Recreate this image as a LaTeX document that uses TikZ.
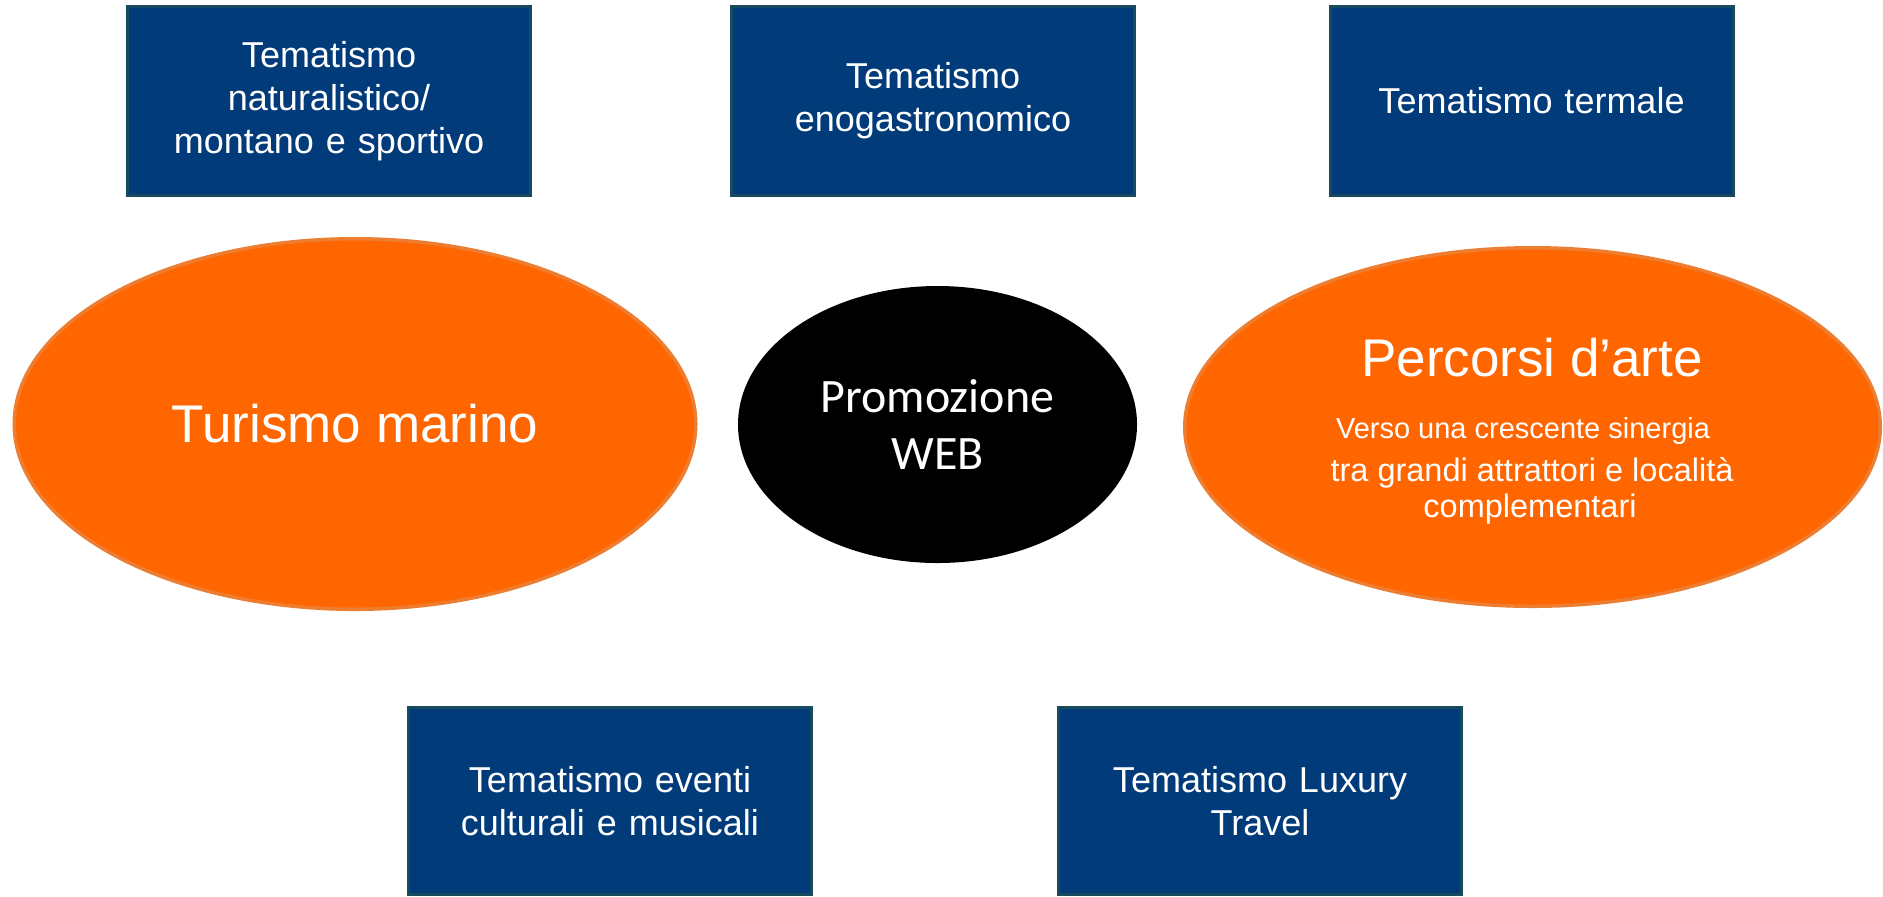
\documentclass[tikz,border=0pt]{standalone}
\usepackage{fontspec}
\setmainfont{Liberation Sans}
\newfontfamily\carlito{Carlito}
\usetikzlibrary{shapes.geometric}
\definecolor{boxfill}{HTML}{023B7A}
\definecolor{boxline}{HTML}{17495F}
\definecolor{orfill}{HTML}{FF6600}
\definecolor{orline}{HTML}{ED7D31}
\begin{document}
\begin{tikzpicture}[x=0.4pt,y=-0.4pt,
  themebox/.style={draw=boxline, fill=boxfill, line width=1.2pt, rectangle,
    minimum width=161.2pt, minimum height=75.6pt, inner sep=0pt,
    text width=150pt, align=center, text=white,
    font=\fontsize{14.4}{17.2}\selectfont},
  orangeell/.style={ellipse, draw=orline, fill=orfill, line width=1.4pt,
    inner sep=0pt, text=white},
  bigtext/.style={font=\fontsize{21.2}{25}\selectfont, text=white, inner sep=0pt},
  smalltext/.style={font=\fontsize{11.6}{14}\selectfont, text=white, inner sep=0pt, anchor=base},
  midtext/.style={font=\fontsize{13}{15}\selectfont, text=white, inner sep=0pt, anchor=base},
  webell/.style={ellipse, fill=black, inner sep=0pt, text=white, align=center,
    font=\carlito\fontsize{19.2}{23}\selectfont}
  ]
\useasboundingbox (0,0) rectangle (1883,896);
% top boxes
\node[themebox] (nat) at (329,101) {Tematismo\\naturalistico/\\montano e sportivo};
\node[themebox] (eno) at (933,101) {Tematismo\\enogastronomico};
\node[themebox] (ter) at (1531.5,101) {Tematismo termale};
% bottom boxes
\node[themebox, minimum height=74.8pt] (eve) at (610,801) {Tematismo eventi\\culturali e musicali};
\node[themebox, minimum height=74.8pt] (lux) at (1260,801) {Tematismo Luxury\\Travel};
% ellipses
\node[orangeell, minimum width=272.6pt, minimum height=148.2pt, bigtext] (mar) at (355,424) {Turismo marino};
\node[webell, minimum width=159.6pt, minimum height=110.8pt] (web) at (937.5,424.5) {Promozione\\WEB};
\node[orangeell, minimum width=278.2pt, minimum height=143.4pt] (arte) at (1532.5,427) {};
\node[bigtext, anchor=base] (arteT) at (1532,376) {Percorsi d’arte};
\node[smalltext] (arteS1) at (1523,438) {Verso una crescente sinergia};
\node[midtext] (arteS2) at (1532,481) {tra grandi attrattori e località};
\node[midtext] (arteS3) at (1530,517) {complementari};
\end{tikzpicture}
\end{document}
